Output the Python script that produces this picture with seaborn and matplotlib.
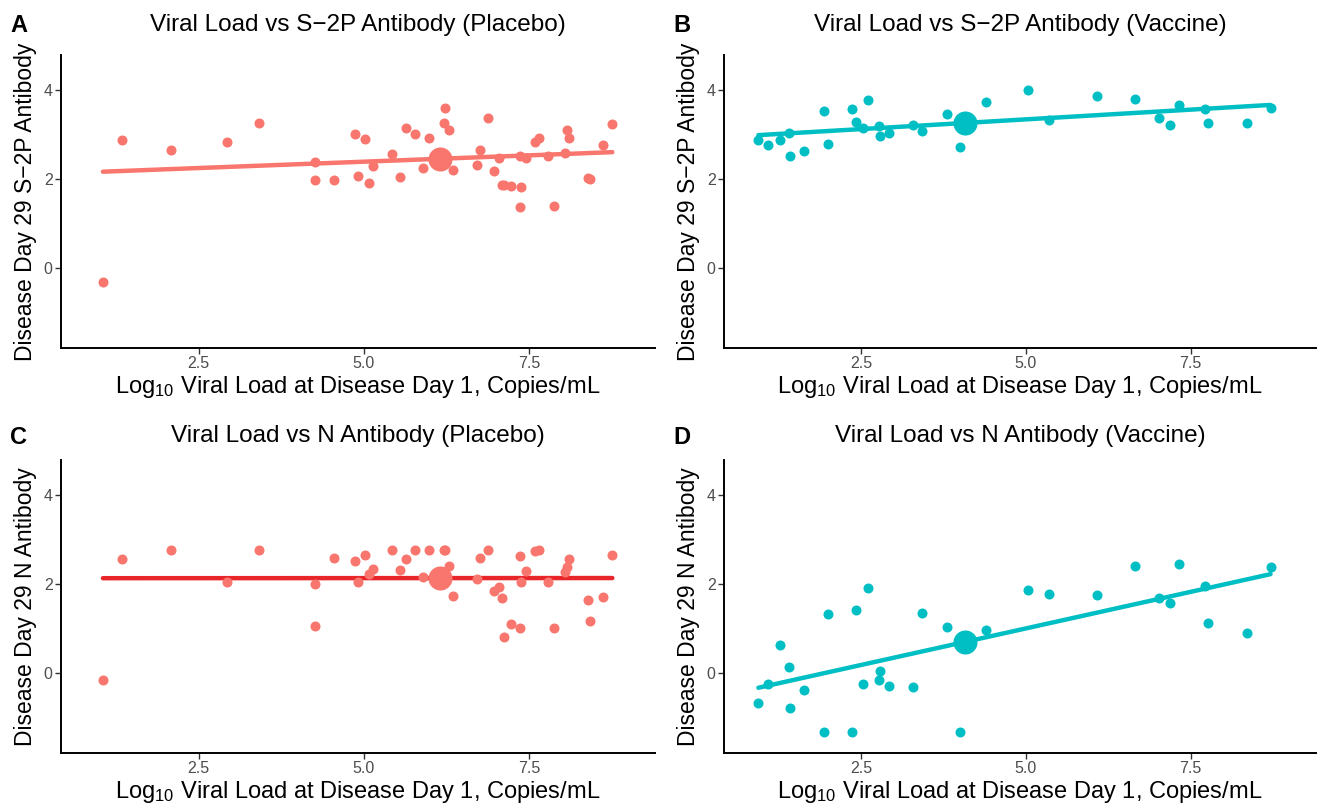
import numpy as np
import matplotlib
matplotlib.use("Agg")
import matplotlib.pyplot as plt
import seaborn as sns

# placebo group: log10 viral load at day 1 (shared by panels A and C)
placebo_vl = [1.054, 1.346, 2.078, 2.934, 3.413, 4.26, 4.26, 4.54, 4.86, 4.905,
              5.016, 5.076, 5.13, 5.424, 5.55, 5.63, 5.77, 5.90, 5.99, 6.205,
              6.23, 6.286, 6.34, 6.71, 6.76, 6.87, 6.97, 7.04, 7.08, 7.12,
              7.22, 7.355, 7.355, 7.375, 7.446, 7.59, 7.65, 7.78, 7.88, 8.04,
              8.07, 8.10, 8.39, 8.42, 8.615, 8.755]
placebo_s2p = [-0.31, 2.88, 2.64, 2.83, 3.26, 2.37, 1.97, 1.97, 3.00, 2.06,
               2.90, 1.91, 2.28, 2.56, 2.04, 3.15, 3.01, 2.24, 2.91, 3.26,
               3.59, 3.09, 2.20, 2.32, 2.64, 3.36, 2.18, 2.48, 1.87, 1.87,
               1.85, 2.51, 1.37, 1.82, 2.47, 2.84, 2.93, 2.52, 1.40, 2.59,
               3.10, 2.91, 2.02, 1.99, 2.76, 3.23]
placebo_n = [-0.15, 2.55, 2.76, 2.04, 2.76, 2.01, 1.05, 2.58, 2.51, 2.04,
             2.66, 2.22, 2.33, 2.76, 2.31, 2.55, 2.76, 2.15, 2.76, 2.76,
             2.76, 2.41, 1.72, 2.11, 2.58, 2.76, 1.85, 1.94, 1.69, 0.82,
             1.11, 2.62, 1.02, 2.04, 2.29, 2.73, 2.76, 2.04, 1.02, 2.26,
             2.38, 2.57, 1.64, 1.18, 1.71, 2.65]

# vaccine group (shared by panels B and D)
vaccine_vl = [0.942, 1.08, 1.266, 1.41, 1.42, 1.64, 1.93, 2.00, 2.355, 2.42,
              2.61, 2.53, 2.77, 2.78, 2.93, 3.28, 3.43, 3.80, 4.006, 4.39,
              5.035, 5.35, 6.08, 6.66, 7.015, 7.18, 7.325, 7.71, 7.755, 8.35,
              8.71]
vaccine_s2p = [2.87, 2.76, 2.88, 3.02, 2.51, 2.63, 3.52, 2.79, 3.56, 3.27,
               3.76, 3.15, 3.18, 2.96, 3.03, 3.21, 3.08, 3.45, 2.71, 3.72,
               3.99, 3.33, 3.85, 3.80, 3.37, 3.20, 3.67, 3.57, 3.25, 3.25,
               3.59]
vaccine_n = [-0.66, -0.25, 0.64, 0.14, -0.79, -0.37, -1.33, 1.32, -1.33, 1.42,
             1.90, -0.25, -0.16, 0.05, -0.28, -0.31, 1.36, 1.04, -1.33, 0.97,
             1.86, 1.77, 1.75, 2.40, 1.69, 1.58, 2.45, 1.96, 1.12, 0.91,
             2.39]

panel_letters = ["A", "B", "C", "D"]
panel_titles = ["Viral Load vs S\u22122P Antibody (Placebo)",
                "Viral Load vs S\u22122P Antibody (Vaccine)",
                "Viral Load vs N Antibody (Placebo)",
                "Viral Load vs N Antibody (Vaccine)"]
y_labels = ["Disease Day 29 S\u22122P Antibody", "Disease Day 29 S\u22122P Antibody",
            "Disease Day 29 N Antibody", "Disease Day 29 N Antibody"]
x_label = r"Log$_{\mathregular{10}}$ Viral Load at Disease Day 1, Copies/mL"

PLACEBO = "#F8766D"
VACCINE = "#00BFC4"

sns.set_theme(style="ticks")
plt.rcParams["font.family"] = ["Liberation Sans", "DejaVu Sans"]
plt.rcParams["mathtext.fontset"] = "custom"
plt.rcParams["mathtext.rm"] = "Liberation Sans"
plt.rcParams["mathtext.it"] = "Liberation Sans"

W, H = 1322, 811
fig = plt.figure(figsize=(W / 100, H / 100), dpi=100)

# axes boxes in pixels: left, top, width, height
boxes = [(61, 55, 594, 293), (724, 55, 592, 293),
         (61, 460, 594, 293), (724, 460, 592, 293)]
title_pads = [17, 17, 13, 13]
letter_offsets = [30, 30, 22, 22]

panels = [
    (placebo_vl, placebo_s2p, PLACEBO, PLACEBO),
    (vaccine_vl, vaccine_s2p, VACCINE, VACCINE),
    (placebo_vl, placebo_n, PLACEBO, "#E8262A"),
    (vaccine_vl, vaccine_n, VACCINE, VACCINE),
]

for i, ((x, y, col, line_col), (l, t, w, h)) in enumerate(zip(panels, boxes)):
    ax = fig.add_axes([l / W, 1 - (t + h) / H, w / W, h / H])
    sns.regplot(x=x, y=y, ax=ax, ci=None, truncate=True, color=col,
                scatter_kws=dict(s=52, linewidths=0, alpha=1, zorder=3),
                line_kws=dict(color=line_col, lw=3.2, zorder=2))
    # group mean (the fitted line passes through it)
    ax.scatter([np.mean(x)], [np.mean(y)], s=300, color=col, linewidths=0, zorder=4)

    ax.set_xlim(0.42, 9.40)
    ax.set_ylim(-1.79, 4.78)
    ax.set_xticks([2.5, 5.0, 7.5])
    ax.set_xticklabels(["2.5", "5.0", "7.5"])
    ax.set_yticks([0, 2, 4])
    ax.tick_params(axis="both", labelsize=11.5, labelcolor="#4D4D4D",
                   color="#333333", length=4, width=1, pad=2)
    sns.despine(ax=ax)
    for s in ["left", "bottom"]:
        ax.spines[s].set_linewidth(1.4)
        ax.spines[s].set_color("black")
    ax.set_xlabel(x_label, fontsize=17, color="black", labelpad=2)
    ax.set_ylabel(y_labels[i], fontsize=16.5, color="black", labelpad=5)
    ax.set_title(panel_titles[i], fontsize=17.5, color="black", pad=title_pads[i])
    fig.text((l - 51) / W, 1 - (t - letter_offsets[i]) / H, panel_letters[i],
             fontsize=17, fontweight="bold", color="black", ha="left", va="center")

fig.savefig("out.png", dpi=100)
